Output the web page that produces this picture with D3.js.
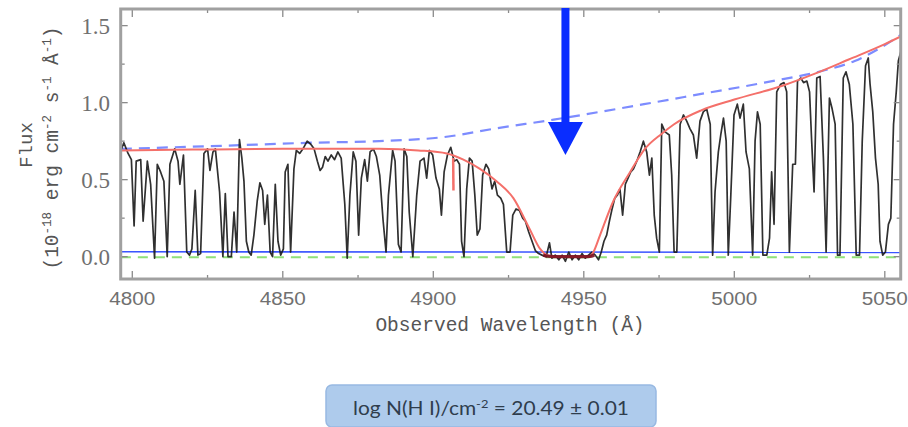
<!DOCTYPE html>
<html>
<head>
<meta charset="utf-8">
<script src="https://cdn.jsdelivr.net/npm/d3@7"></script>
<style>
  html, body { margin: 0; padding: 0; background: #fff; }
  svg { display: block; }
</style>
</head>
<body>
<svg id="chart" width="908" height="427"></svg>
<script>
// ---------- DATA ----------
const xTicks = [4800, 4850, 4900, 4950, 5000, 5050];
const xMinorTicks = [4825, 4875, 4925, 4975, 5025];
const yTicks = [0.0, 0.5, 1.0, 1.5];
const yMinorTicks = [0.25, 0.75, 1.25];
const yTickLabels = ["0.0", "0.5", "1.0", "1.5"];

const spectrumWave = [
 4796.4,4797.2,4798.6,4799.7,4800.6,4801.3,4802.8,4803.6,4805.0,4806.1,
 4807.4,4808.3,4809.4,4810.5,4811.6,4812.5,4814.1,4815.2,4815.8,4817.0,
 4818.1,4819.0,4819.8,4820.9,4821.8,4822.7,4823.8,4825.0,4825.8,4826.8,
 4827.6,4829.0,4830.1,4830.9,4831.8,4832.9,4833.8,4834.7,4835.6,4836.4,
 4837.1,4837.9,4838.7,4839.5,4840.4,4841.5,4842.4,4843.3,4844.0,4844.9,
 4845.8,4846.6,4847.5,4848.4,4849.3,4850.2,4850.8,4851.7,4852.6,4853.7,
 4854.5,4855.6,4856.7,4858.1,4859.3,4860.4,4861.5,4862.4,4863.2,4864.1,
 4865.0,4866.1,4867.2,4868.3,4869.4,4870.6,4871.4,4872.3,4873.4,4874.3,
 4875.2,4876.1,4877.2,4878.1,4879.0,4880.1,4881.1,4882.2,4883.3,4884.3,
 4885.1,4886.5,4887.3,4888.4,4889.3,4890.3,4891.2,4892.0,4893.2,4894.5,
 4895.6,4896.9,4897.8,4898.7,4899.8,4900.9,4902.0,4902.7,4903.6,4904.7,
 4905.8,4906.9,4907.8,4908.7,4909.4,4910.2,4911.1,4912.0,4912.9,4913.8,
 4914.6,4915.5,4916.4,4917.5,4918.4,4919.5,4920.4,4921.3,4922.4,4923.3,
 4924.4,4925.5,4926.4,4927.5,4928.6,4929.7,4930.6,4931.7,4932.8,4933.9,
 4935.0,4936.1,4937.5,4938.6,4939.4,4940.5,4941.7,4942.8,4943.9,4945.0,
 4946.1,4947.2,4948.3,4949.4,4950.5,4951.6,4952.7,4953.8,4954.9,4955.8,
 4956.7,4957.6,4958.5,4959.4,4960.3,4961.2,4962.0,4962.9,4963.8,4964.7,
 4965.6,4966.5,4967.6,4968.7,4969.8,4970.9,4971.8,4972.6,4973.4,4974.2,
 4975.1,4975.9,4977.0,4978.4,4979.2,4980.0,4980.9,4982.0,4983.1,4984.2,
 4985.3,4986.4,4987.5,4988.6,4989.7,4990.8,4992.0,4992.8,4993.6,4994.7,
 4995.5,4996.4,4997.3,4998.0,4998.8,4999.9,5001.0,5001.9,5003.0,5003.9,
 5005.0,5006.1,5006.9,5007.7,5008.6,5009.5,5010.8,5011.7,5012.4,5013.2,
 5014.1,5015.4,5016.5,5017.4,5018.3,5019.4,5020.3,5021.0,5022.1,5023.0,
 5024.1,5025.0,5025.7,5026.5,5027.4,5028.5,5029.6,5030.5,5031.6,5032.5,
 5033.5,5034.3,5035.1,5036.2,5037.1,5038.2,5039.4,5040.5,5041.6,5042.5,
 5043.6,5044.5,5045.1,5046.0,5046.9,5047.8,5048.4,5049.3,5050.2,5051.2,
 5052.0,5052.9,5053.8,5054.5,5055.3
];
const spectrumFlux = [
 0.70,0.74,0.67,0.63,0.20,0.62,0.63,0.23,0.62,0.47,
 -0.01,0.60,0.55,0.49,0.00,0.60,0.70,0.62,0.47,0.66,
 0.03,0.01,0.05,0.43,0.01,0.02,0.67,0.70,0.56,0.68,
 0.70,0.42,0.00,0.41,0.00,0.00,0.29,0.03,0.76,0.64,
 0.49,0.10,0.03,0.01,0.14,0.36,0.48,0.43,0.21,0.40,
 0.03,0.00,0.47,0.10,0.01,0.05,0.55,0.60,0.03,0.57,
 0.69,0.67,0.70,0.75,0.73,0.70,0.62,0.56,0.58,0.65,
 0.62,0.66,0.63,0.68,0.64,0.34,-0.01,0.40,0.68,0.62,
 0.14,0.51,0.63,0.49,0.68,0.70,0.65,0.53,0.24,0.03,
 0.40,0.69,0.62,0.08,0.03,0.70,0.65,0.29,0.00,0.40,
 0.62,0.64,0.51,0.69,0.66,0.51,0.44,0.27,0.55,0.66,
 0.71,0.62,0.63,0.60,0.10,0.00,0.44,0.64,0.62,0.40,
 0.14,0.18,0.53,0.60,0.57,0.44,0.49,0.40,0.38,0.34,
 0.03,0.03,0.27,0.31,0.30,0.25,0.23,0.16,0.10,0.04,
 0.02,0.01,0.00,0.09,-0.01,0.01,-0.02,0.01,-0.03,0.03,
 -0.02,0.01,-0.02,0.02,-0.01,0.01,0.03,0.01,-0.02,0.03,
 0.10,0.14,0.23,0.31,0.38,0.40,0.44,0.27,0.47,0.51,
 0.55,0.57,0.62,0.68,0.75,0.68,0.53,0.64,0.27,0.12,
 0.03,0.86,0.81,0.79,0.53,0.03,0.03,0.86,0.92,0.88,
 0.83,0.79,0.64,0.88,0.94,0.96,0.86,0.01,0.42,0.68,
 0.79,0.90,0.75,0.01,0.38,0.92,0.99,0.90,0.99,0.68,
 0.57,0.01,0.75,0.94,0.86,0.01,0.01,0.12,0.55,0.21,
 1.07,1.12,1.13,1.07,0.03,0.60,0.60,1.14,1.16,1.13,
 1.14,1.07,0.75,0.42,1.16,1.17,0.64,0.03,1.03,0.96,
 0.86,0.01,0.01,1.16,1.20,1.12,0.86,0.01,0.01,0.75,
 1.24,1.29,1.12,0.94,0.64,0.47,0.10,0.01,0.03,0.21,
 0.25,0.86,1.07,1.27,1.33
];

// DLA model (continuum x Voigt profile)
const modelWave = [4796.2,4820,4850,4870,4882,4895,4904.5,4910,4915.5,4921,4926.6,4932,4935.5,4937.7,4940,4952,4953.2,4955.4,4959.8,4965.4,4970.3,4976,4980,4989,5000,5016,5027,5038,5050,5055.3];
const modelFlux = [0.690,0.695,0.700,0.700,0.700,0.690,0.670,0.630,0.570,0.490,0.380,0.180,0.050,0.010,0.000,0.000,0.030,0.140,0.360,0.550,0.700,0.800,0.860,0.950,1.020,1.110,1.190,1.280,1.380,1.430];

// Unabsorbed continuum (dashed blue)
const contWave = [4796.2,4830,4860,4882,4905,4920,4940,4970,4990,5010,5030,5040,5048,5055.3];
const contFlux = [0.700,0.720,0.740,0.750,0.780,0.830,0.890,0.990,1.060,1.130,1.210,1.270,1.350,1.440];

// Error spectrum (solid blue)
const errWave = [4796.2, 5055.3];
const errFlux = [0.032, 0.028];

// Zero level (dashed green)
const zeroWave = [4796.2, 5055.3];
const zeroFlux = [-0.004, -0.004];

// Fitted trough region (dark red)
const fitWave = [4936.5,4938,4940,4942,4944,4946,4948,4950,4952,4953.5];
const fitFlux = [0.010,0.003,0.000,0.000,0.000,0.000,0.000,0.000,0.002,0.010];

// Small red masked segment
const redTickWave = [4906.6, 4906.7];
const redTickFlux = [0.64, 0.43];

// Arrow annotation (wavelength, flux of head base and tip)
const arrowWave = 4943.9;
const arrowHeadFlux = 0.875;
const arrowTipFlux = 0.66;

const xTitle = "Observed Wavelength (\u00C5)";
const yTitle1 = "Flux";
const boxText = ["log N(H I)/cm", "-2", " = 20.49 \u00B1 0.01"];

// ---------- DRAW ----------
const svg = d3.select("#chart");
const L = 120.7, R = 900.7, T = 9, B = 279;
const x = d3.scaleLinear().domain([4796.15, 5055.28]).range([L, R]);
const y = d3.scaleLinear().domain([-0.145, 1.608]).range([B, T]);

svg.append("defs").append("clipPath").attr("id", "clip")
  .append("rect").attr("x", L).attr("y", T).attr("width", R - L).attr("height", B - T);

const plot = svg.append("g").attr("clip-path", "url(#clip)");
const zip = (a, b) => a.map((v, i) => [v, b[i]]);
const lin = d3.line().x(d => x(d[0])).y(d => y(d[1]));
const smooth = d3.line().curve(d3.curveMonotoneX).x(d => x(d[0])).y(d => y(d[1]));

// zero level
plot.append("path").datum(zip(zeroWave, zeroFlux)).attr("d", lin)
  .attr("fill", "none").attr("stroke", "#8fe07a").attr("stroke-width", 2)
  .attr("stroke-dasharray", "10,7");
// error
plot.append("path").datum(zip(errWave, errFlux)).attr("d", lin)
  .attr("fill", "none").attr("stroke", "#3a55ff").attr("stroke-width", 1.6);
// continuum dashed
plot.append("path").datum(zip(contWave, contFlux)).attr("d", smooth)
  .attr("fill", "none").attr("stroke", "#7d8cff").attr("stroke-width", 2.2)
  .attr("stroke-dasharray", "11,7");
// spectrum
plot.append("path").datum(zip(spectrumWave, spectrumFlux)).attr("d", lin)
  .attr("fill", "none").attr("stroke", "#1a1a1a").attr("stroke-width", 1.7)
  .attr("stroke-linejoin", "round").attr("opacity", 0.9);
// model
plot.append("path").datum(zip(modelWave, modelFlux)).attr("d", smooth)
  .attr("fill", "none").attr("stroke", "#f4706a").attr("stroke-width", 2);
// red masked tick
plot.append("path").datum(zip(redTickWave, redTickFlux)).attr("d", lin)
  .attr("fill", "none").attr("stroke", "#f4706a").attr("stroke-width", 2.5);
// fitted trough
plot.append("path").datum(zip(fitWave, fitFlux)).attr("d", smooth)
  .attr("fill", "none").attr("stroke", "#7a1020").attr("stroke-width", 3.2).attr("opacity", 0.9);

// frame ticks
const tk = svg.append("g").attr("stroke", "#8a8a8a").attr("stroke-width", 1.3);
xTicks.forEach(v => {
  tk.append("line").attr("x1", x(v)).attr("x2", x(v)).attr("y1", B).attr("y2", B - 8);
  tk.append("line").attr("x1", x(v)).attr("x2", x(v)).attr("y1", T).attr("y2", T + 8);
});
xMinorTicks.forEach(v => {
  tk.append("line").attr("x1", x(v)).attr("x2", x(v)).attr("y1", B).attr("y2", B - 4);
  tk.append("line").attr("x1", x(v)).attr("x2", x(v)).attr("y1", T).attr("y2", T + 4);
});
yTicks.forEach(v => {
  tk.append("line").attr("x1", L).attr("x2", L + 7).attr("y1", y(v)).attr("y2", y(v));
  tk.append("line").attr("x1", R).attr("x2", R - 7).attr("y1", y(v)).attr("y2", y(v));
});
yMinorTicks.forEach(v => {
  tk.append("line").attr("x1", L).attr("x2", L + 4).attr("y1", y(v)).attr("y2", y(v));
  tk.append("line").attr("x1", R).attr("x2", R - 4).attr("y1", y(v)).attr("y2", y(v));
});

// frame
svg.append("rect").attr("x", L).attr("y", T).attr("width", R - L).attr("height", B - T)
  .attr("fill", "none").attr("stroke", "#a0a0a0").attr("stroke-width", 3);

// x tick labels
svg.append("g").selectAll("text").data(xTicks).join("text")
  .attr("x", d => x(d)).attr("y", 305)
  .attr("text-anchor", "middle")
  .attr("font-family", "Liberation Sans, Arial, sans-serif")
  .attr("font-size", 18.5).attr("fill", "#707070")
  .attr("textLength", 46).attr("lengthAdjust", "spacingAndGlyphs")
  .text(d => d);

// y tick labels
svg.append("g").selectAll("text").data(yTicks).join("text")
  .attr("x", 110).attr("y", d => y(d) + 8)
  .attr("text-anchor", "end")
  .attr("font-family", "Liberation Serif, Times New Roman, serif")
  .attr("font-size", 23).attr("fill", "#707070")
  .text((d, i) => yTickLabels[i]);

// x title
svg.append("text").attr("x", 510).attr("y", 331)
  .attr("text-anchor", "middle")
  .attr("font-family", "Liberation Mono, Courier New, monospace")
  .attr("font-size", 19.5).attr("fill", "#555")
  .text(xTitle);

// y titles
svg.append("text").attr("transform", "translate(32,145) rotate(-90)")
  .attr("text-anchor", "middle")
  .attr("font-family", "Liberation Mono, Courier New, monospace")
  .attr("font-size", 19).attr("fill", "#555")
  .text(yTitle1);

const yt2 = svg.append("text").attr("transform", "translate(58,148) rotate(-90)")
  .attr("text-anchor", "middle")
  .attr("font-family", "Liberation Mono, Courier New, monospace")
  .attr("font-size", 19.5).attr("fill", "#555");
const parts = [["(10", 0], ["-18", 1], [" erg cm", 0], ["-2", 1], [" s", 0], ["-1", 1], [" \u00C5", 0], ["-1", 1], [")", 0]];
let prevSup = 0;
parts.forEach(([t, sup]) => {
  const ts = yt2.append("tspan").text(t);
  if (sup !== prevSup) ts.attr("dy", sup ? -7 : 7);
  if (sup) ts.attr("font-size", 12.5);
  prevSup = sup;
});

// arrow
const ax = x(arrowWave);
const ag = svg.append("g").attr("fill", "#0a2dff");
ag.append("rect").attr("x", ax - 4).attr("y", 8).attr("width", 8).attr("height", y(arrowHeadFlux) - 8 + 1);
ag.append("path").attr("d",
  `M${ax - 17.5},${y(arrowHeadFlux)} L${ax + 17.5},${y(arrowHeadFlux)} L${ax},${y(arrowTipFlux)} Z`);

// bottom box
svg.append("rect").attr("x", 326).attr("y", 385).attr("width", 330).attr("height", 42)
  .attr("rx", 6).attr("fill", "#aecbec").attr("stroke", "#98b9e2").attr("stroke-width", 1.5);
const bt = svg.append("text").attr("x", 491).attr("y", 414.5)
  .attr("text-anchor", "middle")
  .attr("font-family", "Lato, Open Sans, sans-serif")
  .attr("font-size", 19.5).attr("fill", "#2f3d4d")
  .attr("textLength", 276).attr("lengthAdjust", "spacingAndGlyphs");
bt.append("tspan").text(boxText[0]);
bt.append("tspan").text(boxText[1]).attr("font-size", 12).attr("dy", -7);
bt.append("tspan").text(boxText[2]).attr("dy", 7);
</script>
</body>
</html>
